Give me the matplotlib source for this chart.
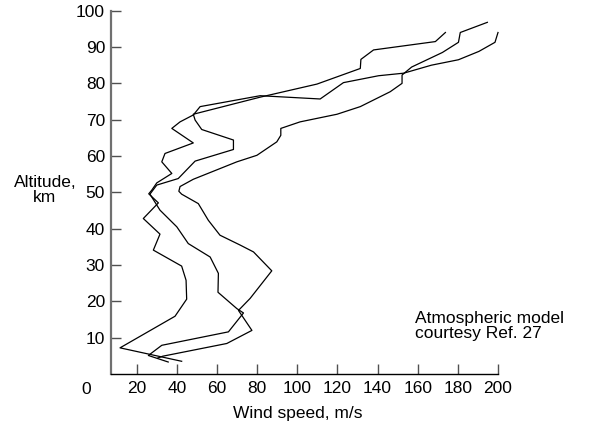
import numpy as np
import matplotlib.pyplot as plt
from matplotlib.transforms import blended_transform_factory

plt.rcParams['font.family'] = ['Liberation Sans', 'DejaVu Sans']

# three wind speed profiles (m/s) vs altitude (km)
speed_a = [42.4, 11.7, 39.1, 44.9, 44.6, 42.4, 28.3, 31.6, 23.3, 30.8, 26.0, 27.5, 30.0,
           37.5, 32.5, 34.1, 48.2, 37.5, 41.6, 48.2, 51.6, 81.5, 111.4, 123.0, 140.5,
           153.0, 166.8, 180.3, 190.5, 198.5, 200.0]
alt_a = [3.5, 7.2, 15.9, 20.6, 25.8, 29.7, 34.1, 38.5, 42.8, 47.1, 49.6, 50.6, 52.6,
         55.2, 58.4, 60.7, 63.6, 67.6, 69.4, 71.3, 73.6, 76.6, 75.7, 80.2, 82.1,
         82.8, 85.0, 86.5, 88.8, 91.3, 94.0]

speed_b = [35.7, 25.8, 32.5, 65.7, 73.2, 69.9, 60.5, 60.7, 56.6, 45.7, 40.0, 31.6, 26.6,
           30.0, 40.7, 49.1, 68.2, 68.2, 52.4, 49.1, 48.2, 81.5, 109.8, 131.4, 131.7,
           138.0, 168.8, 173.8]
alt_b = [3.3, 5.1, 7.9, 11.6, 16.8, 18.0, 22.5, 27.7, 32.2, 35.9, 40.5, 45.1, 49.5,
         52.0, 53.8, 58.6, 61.8, 64.4, 67.3, 69.9, 71.5, 76.2, 79.8, 84.1, 86.6,
         89.2, 91.5, 94.0]

speed_c = [30.5, 33.0, 64.9, 77.4, 70.7, 76.5, 87.3, 78.2, 71.5, 61.5, 55.7, 50.7, 42.4,
           41.0, 41.6, 48.2, 69.9, 79.9, 89.8, 91.8, 91.8, 101.4, 119.8, 131.4, 146.3,
           152.2, 152.2, 157.0, 172.3, 180.3, 181.2, 194.7]
alt_c = [4.4, 4.9, 8.4, 12.0, 17.5, 20.8, 28.4, 33.6, 35.5, 38.2, 42.3, 46.9, 49.5,
         50.3, 51.6, 53.6, 58.4, 60.2, 63.9, 65.7, 67.6, 69.4, 71.5, 73.6, 77.7,
         80.0, 82.3, 84.5, 88.5, 91.3, 94.0, 96.8]

x_ticks = [20, 40, 60, 80, 100, 120, 140, 160, 180, 200]
y_ticks = [10, 20, 30, 40, 50, 60, 70, 80, 90, 100]

fig = plt.figure(figsize=(6.01, 4.29), dpi=100)
ax = fig.add_axes([111/601, 1 - 374/429, 387/601, 363.3/429])

for s, a in [(speed_a, alt_a), (speed_b, alt_b), (speed_c, alt_c)]:
    ax.plot(s, a, color='black', lw=0.9, clip_on=False)

ax.set_xlim(7.2, 200)
ax.set_ylim(0, 100)
ax.set_xticks(x_ticks)
ax.set_yticks(y_ticks)

ax.spines['top'].set_visible(False)
ax.spines['right'].set_visible(False)
ax.spines['left'].set_color('#707070')
ax.spines['left'].set_linewidth(1.6)
ax.spines['bottom'].set_color('black')
ax.spines['bottom'].set_linewidth(1.0)

ax.tick_params(axis='both', direction='in', length=7.2, width=1.0, color='#505050',
               labelsize=12.5, labelcolor='black')
ax.tick_params(axis='y', pad=4.3)
ax.tick_params(axis='x', pad=5)

# the "0" label sits left of the axis start, level with the other tick labels
trans = blended_transform_factory(ax.transData, ax.transAxes)
ax.text(-5.0, -0.054, '0', transform=trans, ha='center', va='baseline', fontsize=12.5)
ax.text(100, -0.121, 'Wind speed, m/s', transform=trans, ha='center', va='baseline',
        fontsize=12.5)

fig.text(45/601, 1 - 190/429, 'Altitude,\nkm', ha='center', va='center',
         multialignment='center', fontsize=12.5, linespacing=1.05)

fig.text(415/601, 1 - 326/429, 'Atmospheric model\ncourtesy Ref. 27', ha='left',
         va='center', fontsize=12.5, linespacing=1.05)

fig.savefig('out.png', dpi=100)
